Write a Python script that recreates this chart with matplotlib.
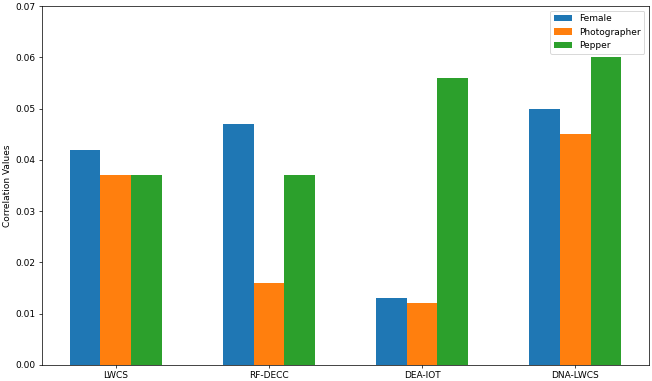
import matplotlib
matplotlib.use("Agg")
import matplotlib.pyplot as plt
import numpy as np

categories = ["LWCS", "RF-DECC", "DEA-IOT", "DNA-LWCS"]
female = [0.042, 0.047, 0.013, 0.050]
photographer = [0.037, 0.016, 0.012, 0.045]
pepper = [0.037, 0.037, 0.056, 0.060]

dpi = 65
fig = plt.figure(figsize=(652 / dpi, 381 / dpi), dpi=dpi)
ax = fig.add_axes([42 / 652, 1 - 365 / 381, (649 - 42) / 652, (365 - 6) / 381])

x = np.arange(len(categories))
w = 0.2
ax.bar(x - w, female, w, label="Female")
ax.bar(x, photographer, w, label="Photographer")
ax.bar(x + w, pepper, w, label="Pepper")

ax.set_xticks(x)
ax.set_xticklabels(categories)
ax.set_ylim(0, 0.07)
ax.set_ylabel("Correlation Values")
ax.legend(loc="upper right")

fig.savefig("out.png", dpi=dpi)
